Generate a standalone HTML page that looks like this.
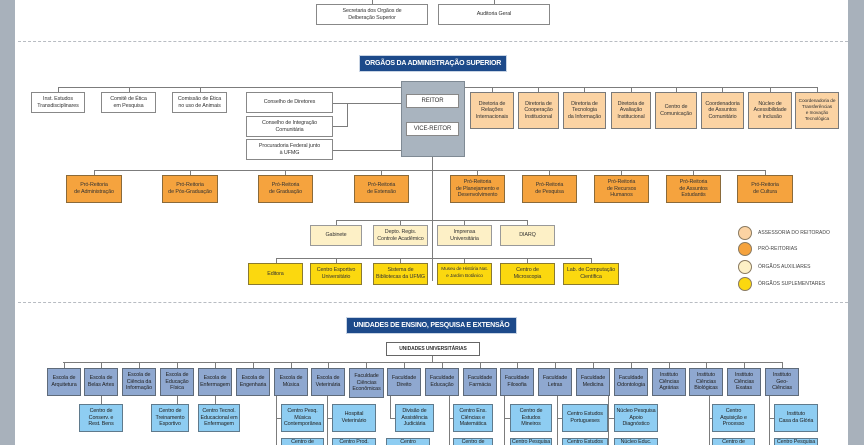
<!DOCTYPE html>
<html><head><meta charset="utf-8"><style>
*{margin:0;padding:0;box-sizing:border-box}
html,body{width:864px;height:445px;overflow:hidden}
body{background:#fff;position:relative;font-family:"Liberation Sans Narrow","Liberation Sans",sans-serif;}
.b{position:absolute;display:flex;align-items:center;justify-content:center;text-align:center;font-size:5.4px;line-height:6.6px;border:1px solid #7a7a7a;color:#333;overflow:hidden;letter-spacing:-0.1px}
.w{background:#fff;border-color:#888}
.t{background:#fbd3a3}
.o{background:#f5a33e;border-color:#8a6a3a}
.a{background:#fdf0c6;border-color:#999}
.y{background:#fbd80f;border-color:#8a7a30}
.u{background:#8fa8d0;border-color:#5f6b7a;color:#222}
.s{background:#8ecdf2;border-color:#5f7a8c;color:#222}
.h{position:absolute;height:1px;background:#7c7c7c}
.v{position:absolute;width:1px;background:#7c7c7c}
.title{position:absolute;background:#1d4a8a;color:#fff;font-weight:bold;font-size:7px;display:flex;align-items:center;justify-content:center;border:1px solid #c8d4e4;letter-spacing:-0.2px;white-space:nowrap;overflow:hidden}
.dash{position:absolute;left:18px;width:830px;height:0;border-top:1px dashed #b8bcc2}
.c{position:absolute;width:14px;height:14px;border-radius:50%;border:1px solid #8a7a60}
.l{position:absolute;font-size:5px;color:#444;white-space:nowrap}
</style></head><body>
<div style="position:absolute;left:0;top:0;width:15px;height:445px;background:#a8b1bb"></div>
<div style="position:absolute;left:848px;top:0;width:16px;height:445px;background:#a8b1bb"></div>

<div class="v" style="left:372px;top:0;height:4px"></div>
<div class="v" style="left:494px;top:0;height:4px"></div>
<div class="b w" style="left:316px;top:4px;width:112px;height:21px">Secretaria dos Orgãos de<br>Delberação Superior</div>
<div class="b w" style="left:438px;top:4px;width:112px;height:21px">Auditoria Geral</div>

<div class="dash" style="top:41px"></div>
<div class="title" style="left:359px;top:55px;width:148px;height:17px">ORGÃOS DA ADMINISTRAÇÃO SUPERIOR</div>

<div class="h" style="left:58px;top:87px;width:760px"></div>
<div class="v" style="left:58px;top:87px;height:5px"></div>
<div class="v" style="left:129px;top:87px;height:5px"></div>
<div class="v" style="left:200px;top:87px;height:5px"></div>
<div class="b w" style="left:31px;top:92px;width:54px;height:21px">Inst. Estudos<br>Transdisciplinares</div>
<div class="b w" style="left:101px;top:92px;width:55px;height:21px">Comitê de Ética<br>em Pesquisa</div>
<div class="b w" style="left:172px;top:92px;width:55px;height:21px">Comissão de Ética<br>no uso de Animais</div>

<div class="h" style="left:333px;top:103px;width:70px"></div>
<div class="v" style="left:347px;top:103px;height:24px"></div>
<div class="h" style="left:333px;top:126px;width:14px"></div>
<div class="h" style="left:333px;top:150px;width:70px"></div>
<div class="b w" style="left:246px;top:92px;width:87px;height:21px">Conselho de Diretores</div>
<div class="b w" style="left:246px;top:116px;width:87px;height:21px">Conselho de Integração<br>Comunitária</div>
<div class="b w" style="left:246px;top:139px;width:87px;height:21px">Procuradoria Federal junto<br>à UFMG</div>

<div style="position:absolute;left:401px;top:81px;width:64px;height:76px;background:#a9b4bf;border:1px solid #7f8a94"></div>
<div class="b w" style="left:406px;top:94px;width:53px;height:14px;font-size:6px">REITOR</div>
<div class="b w" style="left:406px;top:122px;width:53px;height:14px;font-size:6px">VICE-REITOR</div>

<div class="v" style="left:492px;top:87px;height:5px"></div>
<div class="v" style="left:538px;top:87px;height:5px"></div>
<div class="v" style="left:584px;top:87px;height:5px"></div>
<div class="v" style="left:631px;top:87px;height:5px"></div>
<div class="v" style="left:676px;top:87px;height:5px"></div>
<div class="v" style="left:722px;top:87px;height:5px"></div>
<div class="v" style="left:770px;top:87px;height:5px"></div>
<div class="v" style="left:817px;top:87px;height:5px"></div>
<div class="b t" style="left:470px;top:92px;width:44px;height:37px">Diretoria de<br>Relações<br>Internacionais</div>
<div class="b t" style="left:518px;top:92px;width:41px;height:37px">Diretoria de<br>Cooperação<br>Institucional</div>
<div class="b t" style="left:563px;top:92px;width:43px;height:37px">Diretoria de<br>Tecnologia<br>da Informação</div>
<div class="b t" style="left:611px;top:92px;width:40px;height:37px">Diretoria de<br>Avaliação<br>Institucional</div>
<div class="b t" style="left:655px;top:92px;width:42px;height:37px">Centro de<br>Comunicação</div>
<div class="b t" style="left:701px;top:92px;width:43px;height:37px">Coordenadoria<br>de Assuntos<br>Comunitário</div>
<div class="b t" style="left:748px;top:92px;width:44px;height:37px">Núcleo de<br>Acessibilidade<br>e Inclusão</div>
<div class="b t" style="left:795px;top:92px;width:44px;height:37px;font-size:4.8px;line-height:6px">Coordenadoria de<br>Transferências<br>e Inovação<br>Tecnológica</div>

<div class="v" style="left:432px;top:157px;height:124px"></div>
<div class="h" style="left:94px;top:170px;width:672px"></div>
<div class="v" style="left:94px;top:170px;height:5px"></div>
<div class="v" style="left:190px;top:170px;height:5px"></div>
<div class="v" style="left:285px;top:170px;height:5px"></div>
<div class="v" style="left:381px;top:170px;height:5px"></div>
<div class="v" style="left:477px;top:170px;height:5px"></div>
<div class="v" style="left:549px;top:170px;height:5px"></div>
<div class="v" style="left:621px;top:170px;height:5px"></div>
<div class="v" style="left:693px;top:170px;height:5px"></div>
<div class="v" style="left:765px;top:170px;height:5px"></div>
<div class="b o" style="left:66px;top:175px;width:56px;height:28px">Pró-Reitoria<br>de Administração</div>
<div class="b o" style="left:162px;top:175px;width:56px;height:28px">Pró-Reitoria<br>de Pós-Graduação</div>
<div class="b o" style="left:258px;top:175px;width:55px;height:28px">Pró-Reitoria<br>de Graduação</div>
<div class="b o" style="left:354px;top:175px;width:55px;height:28px">Pró-Reitoria<br>de Extensão</div>
<div class="b o" style="left:450px;top:175px;width:55px;height:28px">Pró-Reitoria<br>de Planejamento e<br>Desenvolvimento</div>
<div class="b o" style="left:522px;top:175px;width:55px;height:28px">Pró-Reitoria<br>de Pesquisa</div>
<div class="b o" style="left:594px;top:175px;width:55px;height:28px">Pró-Reitoria<br>de Recursos<br>Humanos</div>
<div class="b o" style="left:666px;top:175px;width:55px;height:28px">Pró-Reitoria<br>de Assuntos<br>Estudantis</div>
<div class="b o" style="left:737px;top:175px;width:56px;height:28px">Pró-Reitoria<br>de Cultura</div>

<div class="h" style="left:336px;top:220px;width:192px"></div>
<div class="v" style="left:336px;top:220px;height:5px"></div>
<div class="v" style="left:400px;top:220px;height:5px"></div>
<div class="v" style="left:464px;top:220px;height:5px"></div>
<div class="v" style="left:527px;top:220px;height:5px"></div>
<div class="b a" style="left:310px;top:225px;width:52px;height:21px">Gabinete</div>
<div class="b a" style="left:373px;top:225px;width:55px;height:21px">Depto. Regis.<br>Controle Acadêmico</div>
<div class="b a" style="left:437px;top:225px;width:55px;height:21px">Imprensa<br>Universitária</div>
<div class="b a" style="left:500px;top:225px;width:55px;height:21px">DIARQ</div>

<div class="h" style="left:276px;top:258px;width:316px"></div>
<div class="v" style="left:276px;top:258px;height:5px"></div>
<div class="v" style="left:336px;top:258px;height:5px"></div>
<div class="v" style="left:400px;top:258px;height:5px"></div>
<div class="v" style="left:464px;top:258px;height:5px"></div>
<div class="v" style="left:527px;top:258px;height:5px"></div>
<div class="v" style="left:591px;top:258px;height:5px"></div>
<div class="b y" style="left:248px;top:263px;width:55px;height:22px">Editora</div>
<div class="b y" style="left:310px;top:263px;width:52px;height:22px">Centro Esportivo<br>Universitário</div>
<div class="b y" style="left:373px;top:263px;width:55px;height:22px">Sistema de<br>Bibliotecas da UFMG</div>
<div class="b y" style="left:437px;top:263px;width:55px;height:22px;font-size:4.8px">Museu de História Nat.<br>e Jardim Botânico</div>
<div class="b y" style="left:500px;top:263px;width:55px;height:22px">Centro de<br>Microscopia</div>
<div class="b y" style="left:563px;top:263px;width:56px;height:22px">Lab. de Computação<br>Científica</div>

<div class="c" style="left:738px;top:226px;background:#fbd3a3"></div>
<div class="c" style="left:738px;top:242px;background:#f5a33e"></div>
<div class="c" style="left:738px;top:260px;background:#fdf0c6"></div>
<div class="c" style="left:738px;top:277px;background:#fbd80f"></div>
<div class="l" style="left:758px;top:230px">ASSESSORIA DO REITORADO</div>
<div class="l" style="left:758px;top:246px">PRÓ-REITORIAS</div>
<div class="l" style="left:758px;top:264px">ÓRGÃOS AUXILIARES</div>
<div class="l" style="left:758px;top:281px">ÓRGÃOS SUPLEMENTARES</div>

<div class="dash" style="top:302px"></div>
<div class="title" style="left:346px;top:317px;width:171px;height:17px">UNIDADES DE ENSINO, PESQUISA E EXTENSÃO</div>
<div class="b w" style="left:386px;top:342px;width:94px;height:14px;border-color:#666;font-weight:bold;font-size:5px">UNIDADES UNIVERSITÁRIAS</div>
<div class="v" style="left:432px;top:356px;height:6px"></div>
<div class="h" style="left:63px;top:362px;width:720px"></div>

<div class="v" style="left:64px;top:362px;height:6px"></div>
<div class="v" style="left:101px;top:362px;height:6px"></div>
<div class="v" style="left:139px;top:362px;height:6px"></div>
<div class="v" style="left:177px;top:362px;height:6px"></div>
<div class="v" style="left:215px;top:362px;height:6px"></div>
<div class="v" style="left:253px;top:362px;height:6px"></div>
<div class="v" style="left:291px;top:362px;height:6px"></div>
<div class="v" style="left:328px;top:362px;height:6px"></div>
<div class="v" style="left:366px;top:362px;height:6px"></div>
<div class="v" style="left:404px;top:362px;height:6px"></div>
<div class="v" style="left:442px;top:362px;height:6px"></div>
<div class="v" style="left:480px;top:362px;height:6px"></div>
<div class="v" style="left:517px;top:362px;height:6px"></div>
<div class="v" style="left:555px;top:362px;height:6px"></div>
<div class="v" style="left:593px;top:362px;height:6px"></div>
<div class="v" style="left:631px;top:362px;height:6px"></div>
<div class="v" style="left:669px;top:362px;height:6px"></div>
<div class="v" style="left:706px;top:362px;height:6px"></div>
<div class="v" style="left:744px;top:362px;height:6px"></div>
<div class="v" style="left:782px;top:362px;height:6px"></div>

<div class="b u" style="left:47px;top:368px;width:34px;height:28px">Escola de<br>Arquitetura</div>
<div class="b u" style="left:84px;top:368px;width:34px;height:28px">Escola de<br>Belas Artes</div>
<div class="b u" style="left:122px;top:368px;width:34px;height:28px">Escola de<br>Ciência da<br>Informação</div>
<div class="b u" style="left:160px;top:368px;width:34px;height:28px">Escola de<br>Educação<br>Física</div>
<div class="b u" style="left:198px;top:368px;width:34px;height:28px">Escola de<br>Enfermagem</div>
<div class="b u" style="left:236px;top:368px;width:34px;height:28px">Escola de<br>Engenharia</div>
<div class="b u" style="left:274px;top:368px;width:34px;height:28px">Escola de<br>Música</div>
<div class="b u" style="left:311px;top:368px;width:34px;height:28px">Escola de<br>Veterinária</div>
<div class="b u" style="left:349px;top:368px;width:35px;height:30px">Faculdade<br>Ciências<br>Econômicas</div>
<div class="b u" style="left:387px;top:368px;width:34px;height:28px">Faculdade<br>Direito</div>
<div class="b u" style="left:425px;top:368px;width:34px;height:28px">Faculdade<br>Educação</div>
<div class="b u" style="left:463px;top:368px;width:34px;height:28px">Faculdade<br>Farmácia</div>
<div class="b u" style="left:500px;top:368px;width:34px;height:28px">Faculdade<br>Filosofia</div>
<div class="b u" style="left:538px;top:368px;width:34px;height:28px">Faculdade<br>Letras</div>
<div class="b u" style="left:576px;top:368px;width:34px;height:28px">Faculdade<br>Medicina</div>
<div class="b u" style="left:614px;top:368px;width:34px;height:28px">Faculdade<br>Odontologia</div>
<div class="b u" style="left:652px;top:368px;width:34px;height:28px">Instituto<br>Ciências<br>Agrárias</div>
<div class="b u" style="left:689px;top:368px;width:34px;height:28px">Instituto<br>Ciências<br>Biológicas</div>
<div class="b u" style="left:727px;top:368px;width:34px;height:28px">Instituto<br>Ciências<br>Exatas</div>
<div class="b u" style="left:765px;top:368px;width:34px;height:28px">Instituto<br>Geo-<br>Ciências</div>

<div class="v" style="left:101px;top:396px;height:8px"></div>
<div class="v" style="left:177px;top:396px;height:8px"></div>
<div class="v" style="left:215px;top:396px;height:8px"></div>
<div class="v" style="left:276px;top:396px;height:49px"></div><div class="h" style="left:276px;top:418px;width:5px"></div>
<div class="v" style="left:327px;top:396px;height:49px"></div><div class="h" style="left:327px;top:418px;width:5px"></div>
<div class="v" style="left:390px;top:396px;height:22px"></div><div class="h" style="left:390px;top:418px;width:5px"></div>
<div class="v" style="left:449px;top:396px;height:49px"></div><div class="h" style="left:449px;top:418px;width:4px"></div>
<div class="v" style="left:504px;top:396px;height:49px"></div><div class="h" style="left:504px;top:418px;width:6px"></div>
<div class="v" style="left:557px;top:396px;height:49px"></div><div class="h" style="left:557px;top:418px;width:5px"></div>
<div class="v" style="left:608px;top:396px;height:49px"></div><div class="h" style="left:608px;top:418px;width:6px"></div>
<div class="v" style="left:709px;top:396px;height:49px"></div><div class="h" style="left:709px;top:418px;width:4px"></div>
<div class="v" style="left:769px;top:396px;height:49px"></div><div class="h" style="left:769px;top:418px;width:5px"></div>

<div class="b s" style="left:79px;top:404px;width:44px;height:28px">Centro de<br>Conserv. e<br>Rest. Bens</div>
<div class="b s" style="left:151px;top:404px;width:38px;height:28px">Centro de<br>Treinamento<br>Esportivo</div>
<div class="b s" style="left:198px;top:404px;width:42px;height:28px">Centro Tecnol.<br>Educacional em<br>Enfermagem</div>
<div class="b s" style="left:281px;top:404px;width:43px;height:28px">Centro Pesq.<br>Música<br>Contemporânea</div>
<div class="b s" style="left:332px;top:404px;width:44px;height:28px">Hospital<br>Veterinário</div>
<div class="b s" style="left:395px;top:404px;width:39px;height:28px">Divisão de<br>Assistência<br>Judiciária</div>
<div class="b s" style="left:453px;top:404px;width:40px;height:28px">Centro Ens.<br>Ciências e<br>Matemática</div>
<div class="b s" style="left:510px;top:404px;width:42px;height:28px">Centro de<br>Estudos<br>Mineiros</div>
<div class="b s" style="left:562px;top:404px;width:46px;height:28px">Centro Estudos<br>Portugueses</div>
<div class="b s" style="left:614px;top:404px;width:44px;height:28px">Núcleo Pesquisa<br>Apoio<br>Diagnóstico</div>
<div class="b s" style="left:712px;top:404px;width:43px;height:28px">Centro<br>Aquisição e<br>Processo</div>
<div class="b s" style="left:774px;top:404px;width:44px;height:28px">Instituto<br>Casa da Glória</div>

<div class="b s" style="left:281px;top:438px;width:43px;height:7px;align-items:flex-start;border-bottom:none">Centro de</div>
<div class="b s" style="left:332px;top:438px;width:44px;height:7px;align-items:flex-start;border-bottom:none">Centro Prod.</div>
<div class="b s" style="left:386px;top:438px;width:44px;height:7px;align-items:flex-start;border-bottom:none">Centro</div>
<div class="b s" style="left:453px;top:438px;width:40px;height:7px;align-items:flex-start;border-bottom:none">Centro de</div>
<div class="b s" style="left:510px;top:438px;width:42px;height:7px;align-items:flex-start;border-bottom:none">Centro Pesquisa</div>
<div class="b s" style="left:562px;top:438px;width:46px;height:7px;align-items:flex-start;border-bottom:none">Centro Estudos</div>
<div class="b s" style="left:614px;top:438px;width:44px;height:7px;align-items:flex-start;border-bottom:none">Núcleo Educ.</div>
<div class="b s" style="left:712px;top:438px;width:43px;height:7px;align-items:flex-start;border-bottom:none">Centro de</div>
<div class="b s" style="left:774px;top:438px;width:44px;height:7px;align-items:flex-start;border-bottom:none">Centro Pesquisa</div>
</body></html>
